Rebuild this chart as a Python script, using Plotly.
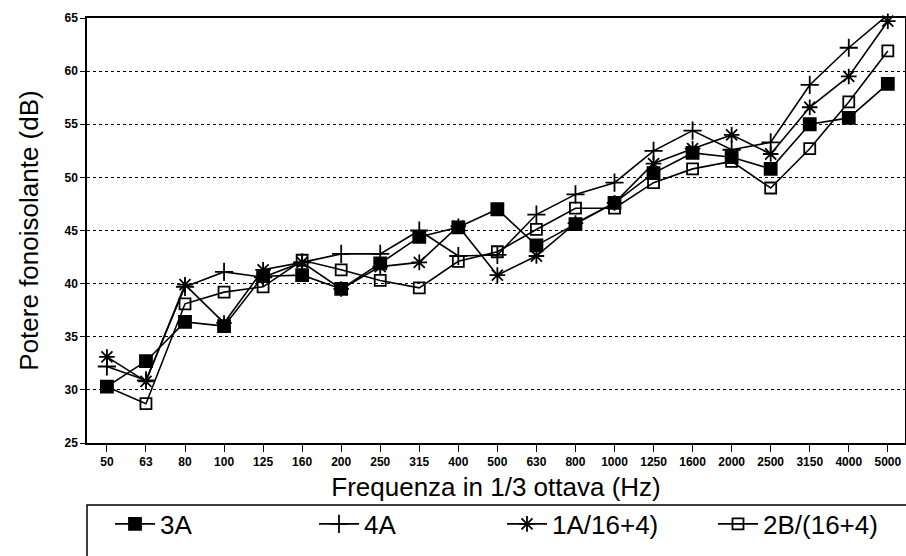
import plotly.graph_objects as go

freqs = ["50", "63", "80", "100", "125", "160", "200", "250", "315", "400", "500",
         "630", "800", "1000", "1250", "1600", "2000", "2500", "3150", "4000", "5000"]

s_3A = [30.3, 32.7, 36.4, 36.0, 40.7, 40.8, 39.5, 41.9, 44.4, 45.3, 47.0,
        43.6, 45.6, 47.6, 50.4, 52.3, 51.9, 50.8, 55.0, 55.6, 58.8]
s_4A = [32.2, 30.9, 39.7, 41.1, 40.6, 42.0, 42.8, 42.8, 45.0, 42.6, 42.7,
        46.5, 48.4, 49.5, 52.5, 54.4, 52.6, 53.3, 58.7, 62.2, 65.3]
s_1A = [33.1, 30.8, 39.9, 36.3, 41.3, 42.0, 39.5, 41.6, 42.0, 45.4, 40.8,
        42.6, 45.7, 47.6, 51.3, 52.7, 54.0, 52.2, 56.6, 59.5, 64.7]
s_2B = [30.3, 28.7, 38.1, 39.2, 39.7, 42.2, 41.3, 40.3, 39.6, 42.1, 43.0,
        45.1, 47.1, 47.1, 49.5, 50.8, 51.5, 49.0, 52.7, 57.1, 61.9]

names = ["3A", "4A", "1A/16+4)", "2B/(16+4)"]
values = [s_3A, s_4A, s_1A, s_2B]
symbols = ["square", "cross-thin", "asterisk", "square-open"]
sizes = [12, 13, 13, 11]
legend_ids = ["legend", "legend2", "legend3", "legend4"]
legend_x_px = [110, 314, 502, 713]

FONT = "Liberation Sans, Arial, sans-serif"

fig = go.Figure()
for name, vals, sym, sz, lid in zip(names, values, symbols, sizes, legend_ids):
    fig.add_trace(go.Scatter(
        x=freqs, y=vals, name=name, mode="lines+markers",
        line=dict(color="black", width=1.6),
        marker=dict(symbol=sym, size=sz, color="black",
                    line=dict(color="black", width=1.8)),
        cliponaxis=False, legend=lid,
    ))

L, R, T, B = 87, 1, 18, 113
W, H = 906, 556
pw = W - L - R
ph = H - T - B

def px_x(p):
    return (p - L) / pw

def px_y(p):
    return (H - B - p) / ph

layout_legends = {}
for lid, lx in zip(legend_ids, legend_x_px):
    layout_legends[lid] = dict(
        x=px_x(lx), xanchor="left", y=px_y(524), yanchor="middle",
        orientation="h", bgcolor="rgba(0,0,0,0)", borderwidth=0,
        font=dict(family=FONT, size=26, color="black"), itemwidth=40,
    )

fig.update_layout(
    width=W, height=H,
    margin=dict(l=L, r=R, t=T, b=B, autoexpand=False),
    paper_bgcolor="white", plot_bgcolor="white",
    showlegend=True,
    **layout_legends,
    xaxis=dict(
        type="category", range=[-0.51, 20.44], automargin=False,
        showline=True, linecolor="black", linewidth=1.5, mirror=True,
        ticks="outside", ticklen=7, tickwidth=1.2, tickcolor="black",
        showgrid=False, zeroline=False,
        tickfont=dict(family=FONT, size=12, color="black", weight="bold"),
        title=dict(text="Frequenza in 1/3 ottava (Hz)", standoff=10,
                   font=dict(family=FONT, size=26, color="black")),
    ),
    yaxis=dict(
        range=[25, 65], dtick=5, tick0=25, automargin=False,
        showline=True, linecolor="black", linewidth=1.5, mirror=True,
        ticks="outside", ticklen=5, tickwidth=1.2, tickcolor="black",
        showgrid=True, gridcolor="black", gridwidth=1, griddash="dot",
        zeroline=False,
        tickfont=dict(family=FONT, size=12, color="black", weight="bold"),
        title=dict(text="Potere fonoisolante (dB)", standoff=18,
                   font=dict(family=FONT, size=26, color="black")),
    ),
    shapes=[dict(type="rect", xref="paper", yref="paper",
                 x0=0, x1=1.05, y0=px_y(505), y1=px_y(600),
                 line=dict(color="black", width=1.5), fillcolor="rgba(0,0,0,0)",
                 layer="below")],
)

fig.write_html(
    "out.html",
    config={"displayModeBar": False},
    post_script="document.body.style.margin='0';document.body.style.overflow='hidden';",
)
